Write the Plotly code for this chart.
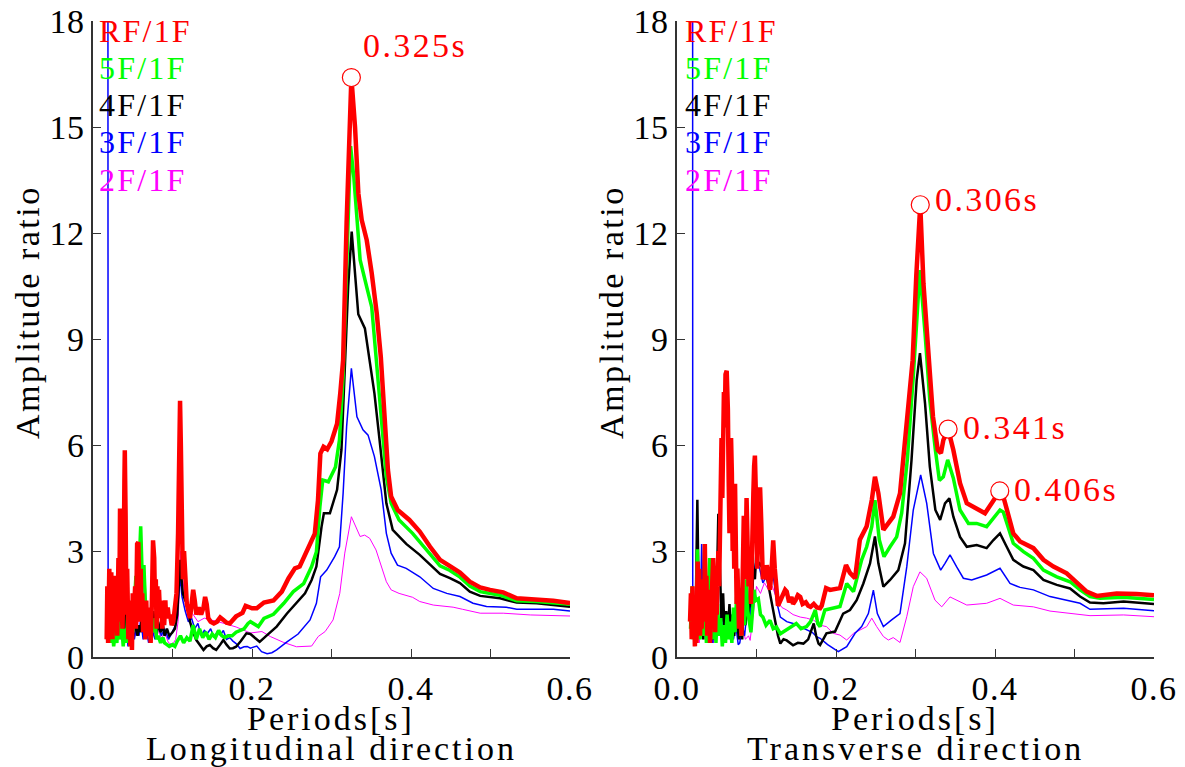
import plotly.graph_objects as go

# ---------------- data (period [s], amplitude ratio) ----------------
# Longitudinal direction
L_RF = [(0.0172,0.5),(0.018,2.0),(0.019,0.4),(0.0205,2.5),(0.022,0.7),(0.023,2.4),(0.0245,0.5),(0.026,2.3),(0.0275,0.8),(0.029,1.8),
        (0.0305,0.6),(0.032,2.8),(0.033,1.0),(0.034,4.2),(0.035,1.5),(0.036,3.5),(0.037,0.8),(0.0385,2.2),(0.0395,5.0),(0.040,5.85),
        (0.041,4.0),(0.042,1.2),(0.043,2.5),(0.0445,0.5),(0.046,1.6),(0.047,0.3),(0.048,1.2),(0.049,0.2),(0.050,1.8),(0.0515,1.2),
        (0.053,2.0),(0.054,0.8),(0.0555,3.2),(0.057,3.25),(0.058,2.0),(0.059,1.0),(0.060,2.5),(0.061,1.0),(0.062,1.8),(0.063,0.7),
        (0.0645,1.5),(0.066,0.5),(0.067,1.6),(0.068,0.8),(0.069,1.4),(0.070,0.6),(0.0715,1.1),(0.0725,0.4),(0.074,1.5),(0.0755,3.3),
        (0.077,2.8),(0.078,1.5),(0.079,2.2),(0.080,0.8),(0.081,2.0),(0.082,1.2),(0.083,1.9),(0.0845,1.1),(0.086,1.6),(0.087,0.8),
        (0.088,1.5),(0.0895,0.9),(0.091,1.6),(0.092,1.1),(0.094,1.4),(0.0955,1.1),(0.097,1.2),(0.099,0.9),(0.101,1.0),(0.103,1.5),
        (0.105,1.8),(0.107,3.5),(0.1085,6.0),(0.1095,7.25),(0.1105,6.0),(0.112,3.0),(0.113,2.2),(0.1145,3.0),(0.116,2.0),(0.118,1.5),
        (0.120,1.3),(0.122,1.1),(0.124,1.5),(0.126,1.9),(0.128,1.6),(0.130,1.2),(0.133,1.4),(0.136,1.2),(0.139,1.4),(0.141,1.7),
        (0.143,1.5),(0.145,1.1),(0.148,1.0),(0.152,0.95),(0.156,1.0),(0.160,1.12),(0.164,1.05),(0.168,0.97),(0.172,0.95),(0.176,1.05),
        (0.180,1.15),(0.184,1.2),(0.188,1.25),(0.192,1.45),(0.196,1.4),(0.200,1.38),(0.206,1.38),(0.215,1.54),(0.227,1.60),(0.2375,1.85),
        (0.246,2.23),(0.254,2.51),(0.260,2.56),(0.271,3.12),(0.279,3.49),(0.283,4.44),(0.286,5.76),(0.290,5.95),(0.2946,5.88),(0.300,6.1),
        (0.307,6.6),(0.311,7.46),(0.3146,8.4),(0.319,12.3),(0.325,16.4),(0.3296,15.0),(0.3338,13.12),(0.338,12.37),(0.3443,11.8),(0.3506,10.86),
        (0.3569,9.73),(0.362,8.5),(0.3667,6.52),(0.371,5.29),(0.375,4.54),(0.3833,4.16),(0.398,3.88),(0.411,3.55),(0.424,3.12),(0.4365,2.75),
        (0.449,2.57),(0.4616,2.39),(0.474,2.13),(0.487,1.97),(0.4994,1.9),(0.516,1.83),(0.533,1.66),(0.558,1.63),(0.579,1.59),(0.600,1.53)]

L_5F = [(0.018,0.5),(0.02,1.0),(0.022,0.4),(0.024,0.9),(0.026,0.3),(0.028,0.7),(0.03,0.4),(0.032,1.1),(0.034,0.5),(0.036,0.9),
        (0.038,0.3),(0.04,0.8),(0.042,0.4),(0.044,1.3),(0.046,0.6),(0.048,1.1),(0.05,0.7),(0.052,1.6),(0.054,2.3),(0.056,1.4),
        (0.058,2.8),(0.060,3.7),(0.062,2.2),(0.064,2.6),(0.066,1.5),(0.068,0.9),(0.07,1.2),(0.072,0.6),(0.074,1.0),(0.076,0.7),
        (0.078,1.1),(0.08,0.5),(0.082,0.6),(0.085,0.4),(0.088,0.55),(0.09,0.4),(0.093,0.35),(0.096,0.3),(0.1,0.35),(0.103,0.3),
        (0.106,0.45),(0.11,0.6),(0.114,0.4),(0.118,0.55),(0.122,0.45),(0.126,0.9),(0.13,0.5),(0.134,0.8),(0.138,0.55),(0.142,0.7),
        (0.146,0.5),(0.15,0.65),(0.154,0.55),(0.158,0.75),(0.162,0.6),(0.166,0.55),(0.17,0.6),(0.175,0.6),(0.18,0.7),(0.185,0.75),
        (0.19,0.8),(0.195,0.95),(0.198,1.0),(0.208,0.86),(0.215,1.09),(0.227,1.21),(0.24,1.52),(0.252,1.85),(0.265,2.08),(0.275,2.56),
        (0.281,2.98),(0.2854,4.25),(0.289,5.01),(0.296,4.96),(0.305,5.38),(0.31,6.14),(0.3146,7.93),(0.319,11.0),(0.324,14.46),(0.328,13.6),
        (0.3305,12.94),(0.3325,12.19),(0.336,11.24),(0.344,10.5),(0.3506,9.9),(0.356,8.5),(0.3637,6.52),(0.369,5.1),(0.375,4.35),(0.385,3.88),
        (0.402,3.5),(0.4146,3.17),(0.424,2.93),(0.4365,2.58),(0.449,2.45),(0.4616,2.26),(0.474,2.01),(0.487,1.85),(0.512,1.75),(0.533,1.59),
        (0.558,1.57),(0.600,1.49)]

L_4F = [(0.018,0.6),(0.02,1.5),(0.022,0.5),(0.024,1.2),(0.026,0.4),(0.028,1.0),(0.03,0.5),(0.032,1.6),(0.034,0.7),(0.036,1.3),
        (0.038,0.5),(0.04,2.0),(0.042,0.8),(0.044,1.0),(0.046,0.4),(0.048,0.8),(0.05,0.5),(0.052,1.2),(0.054,0.8),(0.056,0.6),
        (0.058,0.9),(0.06,0.7),(0.062,1.4),(0.064,0.8),(0.066,1.2),(0.068,0.6),(0.07,1.0),(0.072,0.5),(0.074,0.9),(0.076,1.3),
        (0.078,0.8),(0.08,0.6),(0.082,1.0),(0.085,0.7),(0.088,0.9),(0.09,0.6),(0.093,0.8),(0.096,0.6),(0.1,0.7),(0.103,0.8),
        (0.106,1.2),(0.108,2.0),(0.1095,2.75),(0.111,2.3),(0.113,1.8),(0.116,1.6),(0.1178,1.6),(0.122,1.0),(0.126,0.7),(0.13,0.48),
        (0.134,0.35),(0.139,0.2),(0.143,0.3),(0.147,0.34),(0.151,0.25),(0.155,0.2),(0.16,0.35),(0.164,0.48),(0.168,0.35),(0.172,0.24),
        (0.176,0.25),(0.18,0.29),(0.186,0.45),(0.193,0.67),(0.198,0.65),(0.2096,0.43),(0.219,0.62),(0.231,0.86),(0.244,1.23),(0.256,1.52),
        (0.2667,1.8),(0.275,2.18),(0.281,2.56),(0.2875,3.69),(0.2904,4.07),(0.298,4.07),(0.307,4.73),(0.3125,5.86),(0.3167,8.4),(0.321,10.5),
        (0.3254,12.04),(0.3296,10.8),(0.3337,9.7),(0.342,9.3),(0.348,8.4),(0.354,7.46),(0.36,6.24),(0.3646,5.29),(0.369,4.35),(0.377,3.6),
        (0.394,3.2),(0.411,2.89),(0.424,2.6),(0.4365,2.35),(0.449,2.23),(0.4616,2.09),(0.474,1.85),(0.487,1.73),(0.512,1.66),(0.533,1.54),
        (0.558,1.52),(0.600,1.42)]

L_3F = [(0.0185,40.0),(0.019,2.5),(0.020,0.6),(0.022,1.8),(0.024,0.5),(0.026,1.5),(0.028,0.4),(0.03,1.2),(0.032,0.6),(0.034,1.6),
        (0.036,0.5),(0.038,1.1),(0.04,0.4),(0.042,0.9),(0.044,0.3),(0.046,0.8),(0.048,0.4),(0.05,1.0),(0.052,0.5),(0.055,0.9),
        (0.058,0.6),(0.06,1.1),(0.063,0.5),(0.066,0.9),(0.07,0.4),(0.074,0.8),(0.078,0.5),(0.082,0.9),(0.086,0.6),(0.09,0.8),
        (0.095,0.5),(0.1,0.7),(0.104,0.9),(0.108,1.8),(0.1095,2.3),(0.112,1.7),(0.116,1.3),(0.12,1.0),(0.124,1.1),(0.128,0.8),
        (0.132,0.95),(0.136,0.6),(0.14,0.75),(0.144,0.67),(0.148,0.8),(0.152,0.55),(0.156,0.7),(0.16,0.62),(0.164,0.75),(0.168,0.5),
        (0.172,0.55),(0.176,0.45),(0.18,0.38),(0.185,0.24),(0.19,0.29),(0.194,0.3),(0.198,0.25),(0.206,0.31),(0.212,0.15),(0.219,0.09),
        (0.225,0.12),(0.231,0.2),(0.244,0.43),(0.258,0.65),(0.273,1.05),(0.281,1.52),(0.2863,2.27),(0.294,2.46),(0.304,2.84),(0.31,3.12),
        (0.3146,4.63),(0.319,6.52),(0.325,8.17),(0.332,6.8),(0.3396,6.43),(0.346,6.28),(0.354,5.67),(0.3625,4.73),(0.369,3.5),(0.375,2.94),
        (0.383,2.6),(0.394,2.51),(0.411,2.27),(0.428,1.94),(0.445,1.8),(0.4616,1.71),(0.478,1.52),(0.495,1.43),(0.52,1.41),(0.533,1.35),
        (0.579,1.35),(0.600,1.3)]

L_2F = [(0.018,0.6),(0.02,1.2),(0.022,0.5),(0.025,1.0),(0.028,0.4),(0.031,0.9),(0.034,0.5),(0.037,1.0),(0.04,0.6),(0.043,0.8),
        (0.046,0.4),(0.05,0.9),(0.054,0.6),(0.058,1.2),(0.062,0.8),(0.065,2.6),(0.067,1.5),(0.07,0.7),(0.074,1.0),(0.078,0.6),
        (0.082,0.8),(0.086,0.5),(0.09,0.7),(0.095,0.4),(0.1,0.35),(0.104,0.5),(0.107,1.0),(0.109,2.2),(0.1105,3.0),(0.112,2.4),
        (0.115,1.8),(0.12,1.4),(0.126,1.2),(0.132,1.0),(0.14,1.1),(0.151,1.04),(0.165,0.95),(0.18,0.85),(0.198,0.68),(0.2125,0.72),
        (0.223,0.58),(0.24,0.41),(0.256,0.29),(0.275,0.31),(0.2833,0.58),(0.292,0.72),(0.302,1.05),(0.3104,1.8),(0.3167,2.94),(0.325,3.97),
        (0.3313,3.64),(0.336,3.41),(0.3417,3.45),(0.348,3.36),(0.356,3.03),(0.3625,2.56),(0.369,2.13),(0.375,1.9),(0.385,1.8),(0.402,1.69),
        (0.411,1.57),(0.428,1.47),(0.453,1.41),(0.465,1.35),(0.487,1.24),(0.516,1.24),(0.55,1.19),(0.600,1.16)]

# Transverse direction
T_RF = [(0.0164,1.0),(0.0175,1.8),(0.0185,0.5),(0.0195,2.0),(0.0205,0.6),(0.0215,1.4),(0.0225,0.3),(0.0235,1.5),(0.0245,0.4),(0.026,2.7),
        (0.027,0.9),(0.028,2.5),(0.029,0.6),(0.030,1.6),(0.031,0.8),(0.0325,2.2),(0.034,1.0),(0.035,3.2),(0.036,1.4),(0.037,2.3),
        (0.038,0.6),(0.039,1.9),(0.040,0.8),(0.041,1.5),(0.0415,0.4),(0.043,1.2),(0.044,2.0),(0.0455,2.8),(0.047,1.5),(0.048,0.7),
        (0.049,1.8),(0.050,1.2),(0.051,2.2),(0.052,3.0),(0.053,2.0),(0.054,3.8),(0.055,5.0),(0.056,6.2),(0.057,4.5),(0.058,6.8),
        (0.059,7.5),(0.060,6.5),(0.061,8.0),(0.0625,8.1),(0.064,7.0),(0.065,5.0),(0.066,3.5),(0.067,5.5),(0.068,6.2),(0.069,5.2),
        (0.070,3.0),(0.071,4.2),(0.072,2.5),(0.073,4.9),(0.074,3.2),(0.075,1.5),(0.076,2.5),(0.077,1.2),(0.078,0.8),(0.079,1.8),
        (0.080,1.2),(0.081,0.6),(0.082,1.5),(0.083,2.6),(0.084,4.0),(0.085,3.2),(0.086,2.2),(0.0875,4.5),(0.089,3.0),(0.090,2.0),
        (0.091,2.6),(0.092,2.9),(0.093,1.5),(0.094,2.2),(0.095,3.0),(0.096,4.6),(0.097,5.4),(0.098,5.7),(0.099,4.8),(0.100,3.6),
        (0.101,2.5),(0.102,3.5),(0.103,4.2),(0.1045,4.8),(0.106,3.8),(0.107,2.6),(0.108,2.2),(0.110,2.4),(0.112,2.2),(0.113,2.6),
        (0.115,2.1),(0.117,1.9),(0.119,2.5),(0.121,3.3),(0.123,2.5),(0.125,1.8),(0.127,1.45),(0.130,1.6),(0.133,1.8),(0.136,1.9),
        (0.138,1.85),(0.141,1.55),(0.144,1.7),(0.146,1.5),(0.149,1.6),(0.152,1.75),(0.155,1.7),(0.158,1.5),(0.162,1.55),(0.165,1.45),
        (0.168,1.42),(0.172,1.5),(0.176,1.4),(0.180,1.38),(0.182,1.45),(0.1875,1.95),(0.1925,1.9),(0.205,1.95),(0.2126,2.6),(0.2176,2.38),
        (0.224,2.23),(0.23,3.32),(0.2386,3.7),(0.245,4.44),(0.249,5.1),(0.2533,4.63),(0.2596,3.6),(0.2658,3.79),(0.272,3.97),(0.2805,4.63),
        (0.2868,6.04),(0.293,7.65),(0.2964,8.4),(0.301,10.8),(0.306,12.8),(0.310,10.57),(0.316,8.69),(0.322,6.8),(0.328,5.86),(0.332,5.77),
        (0.335,6.14),(0.341,6.45),(0.3476,5.86),(0.356,4.92),(0.3645,4.35),(0.377,4.21),(0.3874,4.07),(0.3958,4.35),(0.406,4.7),(0.4105,4.54),
        (0.4168,4.07),(0.423,3.5),(0.4315,3.27),(0.4483,3.08),(0.4609,2.75),(0.4735,2.56),(0.4902,2.37),(0.503,2.09),(0.5153,1.85),(0.528,1.73),
        (0.553,1.8),(0.578,1.78),(0.600,1.75)]

T_5F = [(0.017,0.8),(0.019,2.0),(0.02,0.5),(0.022,1.5),(0.024,0.4),(0.0256,3.05),(0.027,1.2),(0.029,0.5),(0.031,1.8),(0.033,0.6),
        (0.035,1.4),(0.037,0.4),(0.039,1.6),(0.041,2.8),(0.043,1.0),(0.045,0.5),(0.047,1.3),(0.049,0.4),(0.051,1.5),(0.053,0.6),
        (0.055,1.1),(0.057,0.3),(0.059,0.9),(0.061,0.4),(0.063,1.2),(0.065,0.5),(0.067,1.0),(0.069,0.4),(0.071,1.4),(0.073,0.7),
        (0.075,1.7),(0.077,1.1),(0.079,1.8),(0.081,0.6),(0.083,1.5),(0.085,0.9),(0.087,2.2),(0.089,1.3),(0.091,1.0),(0.093,0.7),
        (0.095,1.3),(0.097,1.9),(0.099,1.6),(0.1023,1.65),(0.105,1.2),(0.108,1.13),(0.112,0.9),(0.117,1.04),(0.121,0.8),(0.125,0.85),
        (0.13,0.66),(0.134,0.72),(0.138,0.76),(0.143,0.85),(0.15,0.95),(0.156,0.8),(0.163,0.86),(0.168,1.0),(0.174,1.33),(0.177,0.95),
        (0.18,0.86),(0.186,1.33),(0.1966,1.38),(0.205,1.43),(0.2135,2.08),(0.222,1.85),(0.2323,2.75),(0.2386,3.12),(0.245,3.69),(0.249,4.44),
        (0.2545,3.31),(0.2604,2.84),(0.268,3.12),(0.2763,3.4),(0.2826,4.07),(0.2897,5.58),(0.2972,7.93),(0.3015,9.6),(0.3056,10.95),(0.312,9.16),
        (0.318,7.27),(0.325,5.86),(0.33,5.0),(0.335,5.1),(0.3405,5.58),(0.3476,5.06),(0.356,4.16),(0.3666,3.78),(0.377,3.78),(0.3895,3.69),
        (0.4,3.97),(0.4063,4.16),(0.4105,4.1),(0.4168,3.69),(0.423,3.22),(0.4357,2.98),(0.4483,2.79),(0.4609,2.46),(0.4777,2.27),(0.4944,2.13),
        (0.507,1.9),(0.5195,1.71),(0.532,1.66),(0.5618,1.69),(0.600,1.63)]

T_4F = [(0.018,0.8),(0.02,1.5),(0.022,0.6),(0.024,2.0),(0.0256,4.45),(0.027,2.0),(0.029,0.8),(0.031,1.5),(0.033,0.5),(0.035,1.2),
        (0.037,0.7),(0.039,1.4),(0.041,0.6),(0.043,1.1),(0.045,0.5),(0.047,1.5),(0.049,0.8),(0.051,2.5),(0.052,4.05),(0.054,2.5),
        (0.056,1.0),(0.058,1.8),(0.06,0.6),(0.062,1.3),(0.064,0.7),(0.066,1.5),(0.068,0.5),(0.07,1.2),(0.072,0.6),(0.074,1.3),
        (0.076,0.8),(0.078,0.5),(0.08,1.0),(0.082,0.5),(0.084,1.5),(0.086,0.9),(0.088,1.6),(0.09,1.2),(0.092,2.0),(0.094,1.4),
        (0.096,2.5),(0.098,2.2),(0.1,3.0),(0.102,2.6),(0.104,2.65),(0.108,2.5),(0.113,2.27),(0.118,1.7),(0.123,1.13),(0.127,0.6),
        (0.13,0.38),(0.134,0.5),(0.138,0.47),(0.142,0.4),(0.146,0.33),(0.152,0.4),(0.159,0.38),(0.165,0.5),(0.172,0.95),(0.175,0.6),
        (0.178,0.38),(0.18,0.34),(0.188,0.67),(0.1988,0.72),(0.209,1.23),(0.2176,1.33),(0.226,1.61),(0.2344,2.08),(0.2428,2.65),(0.249,3.41),
        (0.2533,2.65),(0.2596,1.99),(0.268,2.18),(0.2784,2.46),(0.2868,3.22),(0.295,5.58),(0.3015,7.84),(0.3056,8.6),(0.312,7.18),(0.318,5.39),
        (0.325,4.16),(0.331,3.88),(0.3371,4.35),(0.3426,4.49),(0.3476,3.97),(0.356,3.4),(0.3645,3.12),(0.377,3.17),(0.3895,3.08),(0.398,3.31),
        (0.4063,3.5),(0.4147,3.12),(0.423,2.75),(0.4357,2.56),(0.4483,2.46),(0.4609,2.18),(0.4777,2.04),(0.4944,1.94),(0.507,1.71),(0.5195,1.54),
        (0.5363,1.52),(0.5618,1.57),(0.600,1.5)]

T_3F = [(0.0195,40.0),(0.0198,1.7),(0.021,0.6),(0.023,1.4),(0.025,0.5),(0.027,2.2),(0.029,0.8),(0.031,3.2),(0.033,1.0),(0.035,1.8),
        (0.037,0.6),(0.039,1.3),(0.041,0.5),(0.043,1.0),(0.045,0.4),(0.047,1.2),(0.049,0.6),(0.051,1.5),(0.053,0.7),(0.056,1.3),
        (0.059,0.5),(0.062,1.1),(0.065,0.6),(0.068,1.2),(0.071,0.5),(0.074,0.9),(0.077,0.35),(0.079,0.4),(0.082,0.9),(0.085,0.6),
        (0.088,1.3),(0.091,0.9),(0.094,1.8),(0.097,2.4),(0.1,2.8),(0.104,2.5),(0.108,2.1),(0.113,2.3),(0.1212,2.27),(0.125,1.6),
        (0.13,1.13),(0.138,1.0),(0.146,0.95),(0.155,0.85),(0.163,0.76),(0.17,0.7),(0.176,0.57),(0.18,0.53),(0.188,0.38),(0.19,0.34),
        (0.2029,0.15),(0.2135,0.29),(0.224,0.67),(0.2323,0.86),(0.2407,1.23),(0.247,1.89),(0.252,1.23),(0.2596,0.86),(0.27,1.05),(0.2805,1.23),
        (0.289,2.55),(0.2972,4.16),(0.3065,5.15),(0.3141,4.35),(0.3225,2.93),(0.3317,2.46),(0.3371,2.65),(0.3434,2.89),(0.3518,2.55),(0.3602,2.23),
        (0.3707,2.18),(0.3895,2.32),(0.4063,2.51),(0.4189,2.08),(0.4315,1.97),(0.4483,1.9),(0.4692,1.71),(0.4902,1.61),(0.507,1.52),(0.5195,1.35),
        (0.5618,1.38),(0.600,1.31)]

T_2F = [(0.018,0.7),(0.02,1.3),(0.022,0.5),(0.025,1.1),(0.028,0.4),(0.031,1.0),(0.034,0.5),(0.037,1.2),(0.04,0.6),(0.043,0.9),
        (0.046,0.4),(0.05,1.1),(0.054,0.6),(0.058,1.4),(0.062,0.7),(0.066,1.5),(0.07,0.8),(0.074,1.2),(0.078,0.5),(0.082,0.9),
        (0.086,0.5),(0.09,0.6),(0.092,0.47),(0.095,1.0),(0.098,1.6),(0.1,2.0),(0.105,1.8),(0.11,2.1),(0.115,1.9),(0.12,2.0),
        (0.126,1.6),(0.132,1.4),(0.138,1.33),(0.146,1.2),(0.155,1.13),(0.163,1.1),(0.172,1.04),(0.18,0.9),(0.188,0.86),(0.1966,0.67),
        (0.205,0.62),(0.2135,0.48),(0.222,0.67),(0.23,0.76),(0.2386,0.86),(0.245,1.1),(0.2512,0.86),(0.2596,0.58),(0.2659,0.48),(0.272,0.55),
        (0.2805,0.41),(0.289,1.14),(0.2972,1.99),(0.3056,2.41),(0.314,2.23),(0.3245,1.61),(0.333,1.42),(0.3434,1.7),(0.356,1.56),(0.3645,1.47),
        (0.3895,1.52),(0.4063,1.66),(0.423,1.47),(0.4483,1.42),(0.4692,1.3),(0.4944,1.24),(0.5195,1.17),(0.5618,1.19),(0.600,1.14)]

SERIES_NAMES = ["2F/1F", "3F/1F", "4F/1F", "5F/1F", "RF/1F"]   # drawing order (RF on top)
LEGEND_ORDER = ["RF/1F", "5F/1F", "4F/1F", "3F/1F", "2F/1F"]
COLORS = {"RF/1F": "#FF0000", "5F/1F": "#00FF00", "4F/1F": "#000000", "3F/1F": "#0000FF", "2F/1F": "#FF00FF"}
WIDTHS = {"RF/1F": 4.5, "5F/1F": 3.5, "4F/1F": 2.5, "3F/1F": 1.5, "2F/1F": 1.0}

LONG = {"RF/1F": L_RF, "5F/1F": L_5F, "4F/1F": L_4F, "3F/1F": L_3F, "2F/1F": L_2F}
TRAN = {"RF/1F": T_RF, "5F/1F": T_5F, "4F/1F": T_4F, "3F/1F": T_3F, "2F/1F": T_2F}

PEAKS_L = [(0.325, 16.4, "0.325s")]
PEAKS_T = [(0.306, 12.8, "0.306s"), (0.341, 6.45, "0.341s"), (0.406, 4.7, "0.406s")]

X_TICKS = [0.0, 0.2, 0.4, 0.6]
X_MINOR = [0.1, 0.3, 0.5]
Y_TICKS = [0, 3, 6, 9, 12, 15, 18]

# ---------------- figure ----------------
W, H = 1185, 767
FONT = "Liberation Serif, Times New Roman, serif"
FS = 34


def spaced(t, ls=2.5):
    return f'<span style="letter-spacing:{ls}px">{t}</span>'


fig = go.Figure()

for data, xa, ya in [(LONG, "x", "y"), (TRAN, "x2", "y2")]:
    for name in SERIES_NAMES:
        pts = data[name]
        fig.add_trace(go.Scatter(
            x=[p[0] for p in pts], y=[p[1] for p in pts], mode="lines",
            line=dict(color=COLORS[name], width=WIDTHS[name]),
            xaxis=xa, yaxis=ya, showlegend=False, hoverinfo="skip"))

for peaks, xa, ya in [(PEAKS_L, "x", "y"), (PEAKS_T, "x2", "y2")]:
    fig.add_trace(go.Scatter(
        x=[p[0] for p in peaks], y=[p[1] for p in peaks], mode="markers",
        marker=dict(symbol="circle", size=18, color="white", line=dict(color="#FF0000", width=1.2)),
        xaxis=xa, yaxis=ya, showlegend=False, cliponaxis=False, hoverinfo="skip"))


def px2fx(px):
    return px / W


def py2fy(py):
    return 1 - py / H


xdomL = [px2fx(93), px2fx(570)]
xdomR = [px2fx(677), px2fx(1154)]
ydom = [py2fy(657), py2fy(21)]

axis_common = dict(showline=True, linecolor="#333333", linewidth=1.5, showgrid=False, zeroline=False,
                   ticks="inside", ticklen=8, tickwidth=1.2, tickcolor="#333333", automargin=False,
                   tickfont=dict(family=FONT, size=FS, color="black"), mirror=False)

xt_text = [spaced(f"{v:.1f}", 1.5) for v in X_TICKS]
yt_text = [spaced(str(v), 0.5) for v in Y_TICKS]

fig.update_layout(
    width=W, height=H, margin=dict(l=0, r=0, t=0, b=0, autoexpand=False),
    paper_bgcolor="white", plot_bgcolor="white",
    xaxis=dict(domain=xdomL, range=[0, 0.6], tickvals=X_TICKS, ticktext=xt_text,
               minor=dict(tickvals=X_MINOR, ticks="inside", ticklen=8, tickcolor="#333333"), anchor="y", **axis_common),
    yaxis=dict(domain=ydom, range=[0, 18], tickvals=Y_TICKS, ticktext=yt_text, anchor="x", **axis_common),
    xaxis2=dict(domain=xdomR, range=[0, 0.6], tickvals=X_TICKS, ticktext=xt_text,
                minor=dict(tickvals=X_MINOR, ticks="inside", ticklen=8, tickcolor="#333333"), anchor="y2", **axis_common),
    yaxis2=dict(domain=ydom, range=[0, 18], tickvals=Y_TICKS, ticktext=yt_text, anchor="x2", **axis_common),
)

ann = []
# legend-like labels
leg_y = [31, 68, 105, 142, 180]
for x0 in [97, 683]:
    for name, yy in zip(LEGEND_ORDER, leg_y):
        ann.append(dict(text=spaced(name, 2.2), x=px2fx(x0), y=py2fy(yy), xref="paper", yref="paper",
                        xanchor="left", yanchor="middle", showarrow=False,
                        font=dict(family=FONT, size=32, color=COLORS[name])))
# axis titles
for xc, sub in [(331, "Longitudinal direction"), (915, "Transverse direction")]:
    ann.append(dict(text=spaced("Periods[s]", 3), x=px2fx(xc), y=py2fy(718), xref="paper", yref="paper",
                    xanchor="center", yanchor="middle", showarrow=False, font=dict(family=FONT, size=FS, color="black")))
    ann.append(dict(text=spaced(sub, 3), x=px2fx(xc), y=py2fy(748), xref="paper", yref="paper",
                    xanchor="center", yanchor="middle", showarrow=False, font=dict(family=FONT, size=FS, color="black")))
for xc in [27, 611]:
    ann.append(dict(text=spaced("Amplitude ratio", 2.5), x=px2fx(xc), y=py2fy(312), xref="paper", yref="paper", textangle=-90,
                    xanchor="center", yanchor="middle", showarrow=False, font=dict(family=FONT, size=FS, color="black")))
# peak labels
ann.append(dict(text=spaced(PEAKS_L[0][2], 2.4), x=0.337, y=17.3, xref="x", yref="y", xanchor="left", yanchor="middle",
                showarrow=False, font=dict(family=FONT, size=FS, color="#FF0000")))
for (px_, py_, t), dx, dy in zip(PEAKS_T, [0.016, 0.016, 0.016], [0.15, 0.05, 0.05]):
    ann.append(dict(text=spaced(t, 2.4), x=px_ + dx, y=py_ + dy, xref="x2", yref="y2", xanchor="left", yanchor="middle",
                    showarrow=False, font=dict(family=FONT, size=FS, color="#FF0000")))
fig.update_layout(annotations=ann)

fig.write_html("out.html")
